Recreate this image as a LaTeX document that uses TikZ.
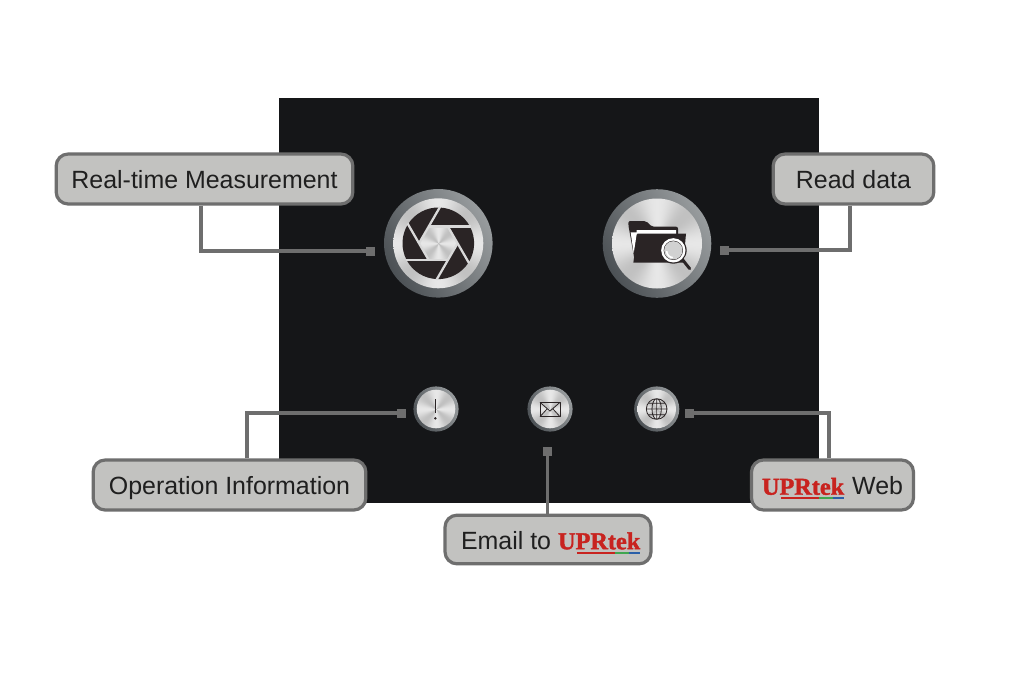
\documentclass[tikz,border=0pt]{standalone}
\usepackage{fontspec}
\usetikzlibrary{calc}
\setmainfont{Liberation Sans}
\newfontfamily\logofont{Liberation Serif}[FakeBold=1.6]
\definecolor{panel}{HTML}{151618}
\definecolor{boxfill}{HTML}{C2C2C0}
\definecolor{wire}{HTML}{6E6E6E}
\definecolor{ink}{HTML}{1F1F1F}
\definecolor{icon}{HTML}{2A2425}
\definecolor{lred}{HTML}{C8231F}
\definecolor{lgreen}{HTML}{3FA650}
\definecolor{lblue}{HTML}{2A5FA8}
\definecolor{ringtop}{HTML}{989C9E}
\definecolor{ringbot}{HTML}{4C5155}
\pgfdeclarefunctionalshading{metal}{\pgfpointorigin}{\pgfpoint{100bp}{100bp}}{}{
  50 sub exch 50 sub 0.001 add atan 4 mul cos 0.075 mul 0.83 add dup dup
}
\newsavebox{\logobox}
\newcommand{\uplogo}{\sbox{\logobox}{\logofont\bfseries\fontsize{18.2pt}{20pt}\selectfont\textcolor{lred}{UPRtek}}%
  \hbox{\usebox{\logobox}\kern-\wd\logobox\kern.23\wd\logobox
  \textcolor{lred}{\rule[-3.2pt]{.46\wd\logobox}{1.5pt}}%
  \textcolor{lgreen}{\rule[-3.2pt]{.17\wd\logobox}{1.5pt}}%
  \textcolor{lblue}{\rule[-3.2pt]{.14\wd\logobox}{1.5pt}}}}
\tikzset{
  x=.75pt,y=-.75pt,
  callout/.style={draw=wire,fill=boxfill,line width=2.4pt,rounded corners=9pt,inner sep=0pt,
    text=ink,font=\fontsize{18.7pt}{22pt}\selectfont,text height=17.6pt,text depth=3pt,anchor=center},
  pin/.style={fill=wire,minimum size=6.75pt,inner sep=0pt,draw=none},
  wireline/.style={draw=wire,line width=2.5pt},
  icoline/.style={draw=icon,line width=.6pt},
  gapline/.style={draw=black!15,line width=1.7pt},
}
\newcommand{\knob}[4]{% x y outer inner
  \path[left color=ringtop,right color=ringbot,shading angle=-60] (#1,#2) circle (#3);
  \path[shading=metal] (#1,#2) circle (#4);
}
\begin{document}
\begin{tikzpicture}
\useasboundingbox[fill=white] (0,0) rectangle (1024,682);
\fill[panel] (279,98) rectangle (819,503);

% knobs
\knob{438.3}{243.3}{54.3}{45}
\knob{657}{243.5}{54.3}{45}
\knob{436}{409}{22.6}{19.3}
\knob{550}{409}{22.6}{19.3}
\knob{656.7}{409}{22.6}{19.3}

% shutter
\begin{scope}[shift={(438.3,243.3)},yscale=-1]
  \foreach \k in {0,60,...,300}{
    \fill[icon,rotate=\k] (-9.6,16.7) -- (31.7,16.7) arc[start angle=27.8,end angle=87.8,radius=35.8] -- cycle;
  }
  \foreach \k in {0,60,...,300}{
    \draw[gapline,rotate=\k] (-9.6,16.7) -- (32.5,16.7);
  }
\end{scope}

% folder
\begin{scope}[shift={(590,175)},scale=1/3]
  \fill[icon,rounded corners=1.5pt] (115,150) -- (115,138) -- (168,138) -- (185,155) -- (264,155) -- (264,240) -- (135,262) -- cycle;
  \fill[white] (122,172) -- (140,172) -- (140,165) -- (258,165) -- (258,178) -- (140,178) -- (131,235) -- cycle;
  \fill[icon] (142,176) -- (288,176) -- (280,263) -- (130,263) -- cycle;
  \draw[icon,line width=2.2pt,line cap=round] (276,252) -- (299,281);
  \fill[icon] (250,226) circle (40);
  \fill[white] (250,226) circle (36.5);
  \fill[icon] (250,226) circle (29);
  \fill[black!18] (250,226) circle (27.5);
  \draw[white,line width=1.2pt] (230,228) arc[start angle=180,end angle=95,radius=20];
\end{scope}

% small icons
\begin{scope}[shift={(390,375)},scale=1/3]
  \draw[icoline,line width=.8pt] (136,72) -- (136,115);
  \fill[icon] (136,130) circle (4);
  \draw[icoline,line join=round] (450,82) rectangle (510,125);
  \draw[icoline] (450,82) -- (480,108) -- (510,82) (450,125) -- (472,101) (510,125) -- (488,101);
  \draw[icoline] (800,102) circle (31) (800,102) ellipse (14 and 31) (800,71) -- (800,133) (769,102) -- (831,102)
    (774,85) -- (826,85) (774,119) -- (826,119);
\end{scope}

% callouts
\node[callout,minimum width=222.5pt,minimum height=37.5pt] (rt) at (204.5,179) {Real-time Measurement};
\node[callout,minimum width=120.5pt,minimum height=37.5pt] (rd) at (853.5,179) {Read data};
\node[callout,minimum width=204.5pt,minimum height=37.5pt] (op) at (229.5,485) {Operation Information};
\node[callout,minimum width=154.5pt,minimum height=36.5pt] (em) at (548,539.5) {\hspace*{4pt}Email to \uplogo};
\node[callout,minimum width=121.5pt,minimum height=37.5pt] (wb) at (832.5,485) {\uplogo\hspace*{6pt}Web};

% pins
\node[pin] (p1) at (370,251) {};
\node[pin] (p2) at (724,250) {};
\node[pin] (p3) at (401,413) {};
\node[pin] (p4) at (547.5,451) {};
\node[pin] (p5) at (689,413) {};

% connectors
\draw[wireline] ($(rt.south)+(-3.5,0)$) |- (p1.center);
\draw[wireline] ($(rd.south)+(-3.5,0)$) |- (p2.center);
\draw[wireline] ($(op.north)+(17.5,0)$) |- (p3.center);
\draw[wireline] (em.north -| p4) -- (p4.center);
\draw[wireline] ($(wb.north)+(-3.5,0)$) |- (p5.center);
\end{tikzpicture}
\end{document}
